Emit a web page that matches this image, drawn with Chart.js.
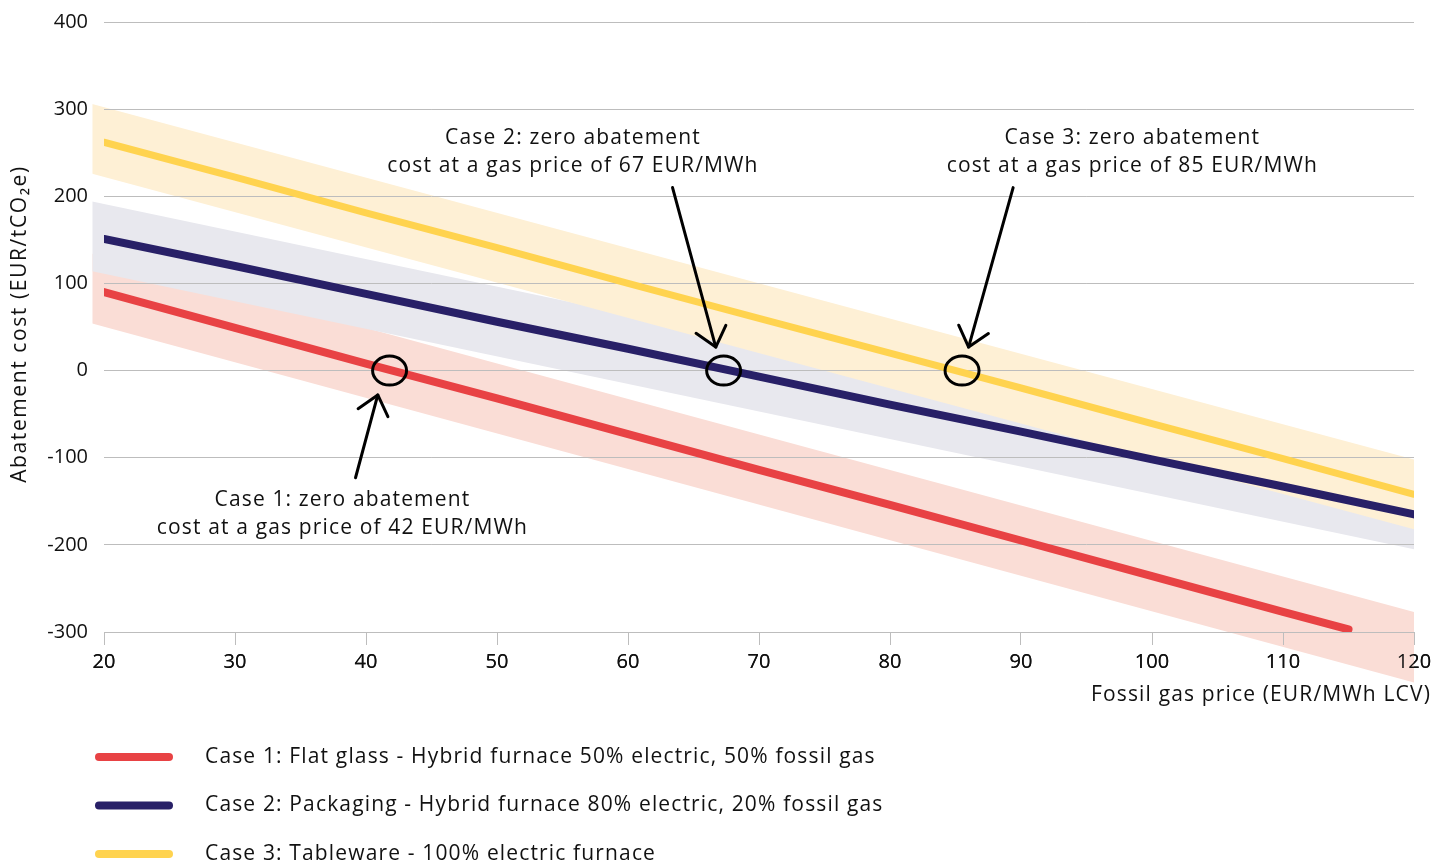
<!DOCTYPE html>
<html><head><meta charset="utf-8">
<script src="https://cdn.jsdelivr.net/npm/chart.js@4.4.1/dist/chart.umd.min.js"></script>
<style>html,body{margin:0;padding:0;background:#fff;}canvas{display:block}</style>
</head><body>
<canvas id="c" width="1433" height="861"></canvas>
<script>
// ---- data ----
const xTicks = [20,30,40,50,60,70,80,90,100,110,120];
const yTicks = [-300,-200,-100,0,100,200,300,400];

const case1X = [20,30,40,50,60,70,80,90,100,110,115];
const case1Y = [90,49,8,-32,-73,-114,-154,-195,-236,-277,-297];
const case2X = [20,30,40,50,60,70,80,90,100,110,120];
const case2Y = [151,120,88,56,25,-7,-39,-70,-102,-133,-165];
const case3X = [20,30,40,50,60,70,80,90,100,110,120];
const case3Y = [262,222,181,141,100,60,20,-20,-61,-101,-142];

const bandX = [19.1,120];
const case1Upper = [134,-277];
const case1Lower = [54,-358];
const case2Upper = [194,-125];
const case2Lower = [114,-205];
const case3Upper = [306,-102];
const case3Lower = [226,-182];

const seriesNames = [
  'Case 1: Flat glass - Hybrid furnace 50% electric, 50% fossil gas',
  'Case 2: Packaging - Hybrid furnace 80% electric, 20% fossil gas',
  'Case 3: Tableware - 100% electric furnace'
];
const lineColors = ['#E84244','#282067','#FFD34F'];
const bandColors = ['#FADDD6','#E8E8EE','#FEF0D5'];

const yTitle = 'Abatement cost (EUR/tCO₂e)';
const xTitle = 'Fossil gas price (EUR/MWh LCV)';

const notes = [
  {circle:[41.8,0], tail:[39.2,-123], tip:[40.9,-28], at:[38.2,-148],
   lines:['Case 1: zero abatement','cost at a gas price of 42 EUR/MWh']},
  {circle:[67.3,0], tail:[63.4,210], tip:[66.7,27], at:[55.8,267],
   lines:['Case 2: zero abatement','cost at a gas price of 67 EUR/MWh']},
  {circle:[85.5,0], tail:[89.4,210], tip:[86.0,27], at:[98.5,267],
   lines:['Case 3: zero abatement','cost at a gas price of 85 EUR/MWh']}
];

// ---- build ----
const pts = (xs, ys) => xs.map((x,i)=>({x, y: ys[i]}));
const FONT = '"Open Sans", "Noto Sans", sans-serif';
const SPACING = '1.15px';

function band(up, low, color, order){
  return [
    {label:'_u', data: pts(bandX, up), borderWidth:0, pointRadius:0, backgroundColor: color, fill:'+1', order, clip:false},
    {label:'_l', data: pts(bandX, low), borderWidth:0, pointRadius:0, backgroundColor: color, fill:false, order, clip:false}
  ];
}
function line(xs, ys, i){
  return {label: seriesNames[i], data: pts(xs, ys), borderColor: lineColors[i], backgroundColor: lineColors[i],
    borderWidth: i===2 ? 7 : 8, borderCapStyle:'round', pointRadius:0, fill:false, tension:0, order: 3-i};
}

const datasets = [
  ...band(case1Upper, case1Lower, bandColors[0], 10),
  ...band(case2Upper, case2Lower, bandColors[1], 9),
  ...band(case3Upper, case3Lower, bandColors[2], 8),
  line(case1X, case1Y, 0),
  line(case2X, case2Y, 1),
  line(case3X, case3Y, 2)
];
const FIRST_LINE = 6;

// let the uncertainty bands spill past the plot frame, as in the original
const widenArea = {
  id:'widenArea',
  beforeDatasetsDraw(chart){
    const a = chart.chartArea;
    chart._saved = {left:a.left, bottom:a.bottom};
    a.left = chart.scales.x.getPixelForValue(bandX[0]);
    a.bottom = chart.height;
  },
  beforeDatasetDraw(chart, args){
    // grid lines and x axis sit above the bands but below the lines
    if (args.index !== FIRST_LINE) return;
    const area = Object.assign({}, chart.chartArea, chart._saved);
    chart.scales.y.drawGrid(area);
    chart.scales.x.draw(area);
  },
  afterDatasetsDraw(chart){ Object.assign(chart.chartArea, chart._saved); }
};

const overlay = {
  id:'overlay',
  afterDraw(chart){
    const {ctx, scales:{x, y}, chartArea} = chart;
    ctx.save();
    ctx.letterSpacing = SPACING;
    ctx.strokeStyle = '#000'; ctx.lineWidth = 3; ctx.lineCap='round'; ctx.lineJoin='round';
    notes.forEach(n=>{
      ctx.beginPath();
      ctx.ellipse(x.getPixelForValue(n.circle[0]), y.getPixelForValue(n.circle[1]), 17, 14.5, 0, 0, Math.PI*2);
      ctx.stroke();
      const tx = x.getPixelForValue(n.tail[0]), ty = y.getPixelForValue(n.tail[1]);
      const hx = x.getPixelForValue(n.tip[0]), hy = y.getPixelForValue(n.tip[1]);
      ctx.beginPath(); ctx.moveTo(tx,ty); ctx.lineTo(hx,hy); ctx.stroke();
      const a = Math.atan2(ty-hy, tx-hx), L = 24, w = 40*Math.PI/180;
      ctx.beginPath();
      ctx.moveTo(hx + L*Math.cos(a-w), hy + L*Math.sin(a-w));
      ctx.lineTo(hx,hy);
      ctx.lineTo(hx + L*Math.cos(a+w), hy + L*Math.sin(a+w));
      ctx.stroke();
      ctx.fillStyle = '#111'; ctx.font = '21px ' + FONT; ctx.textAlign='center'; ctx.textBaseline='middle';
      const cx = x.getPixelForValue(n.at[0]), cy = y.getPixelForValue(n.at[1]);
      n.lines.forEach((t,k)=> ctx.fillText(t, cx, cy + k*28));
    });
    // axis titles
    ctx.fillStyle = '#111'; ctx.font = '21px ' + FONT; ctx.textBaseline='middle';
    ctx.textAlign='right';
    ctx.fillText(xTitle, chartArea.right + 17, chartArea.bottom + 63);
    ctx.save();
    ctx.letterSpacing = '1.6px';
    ctx.translate(20, (chartArea.top + chartArea.bottom)/2 - 3);
    ctx.rotate(-Math.PI/2);
    ctx.textAlign='center';
    ctx.fillText(yTitle, 0, 0);
    ctx.restore();
    // legend
    ctx.textAlign='left';
    seriesNames.forEach((name,i)=>{
      const yy = chartArea.bottom + 125 + i*48.5;
      ctx.strokeStyle = lineColors[i]; ctx.lineWidth = 8; ctx.lineCap='round';
      ctx.beginPath(); ctx.moveTo(99, yy); ctx.lineTo(169, yy); ctx.stroke();
      ctx.fillStyle = '#111';
      ctx.fillText(name, 205, yy);
    });
    ctx.restore();
  }
};

new Chart(document.getElementById('c'), {
  type:'line',
  data:{datasets},
  options:{
    responsive:false, animation:false, devicePixelRatio:1,
    layout:{padding:{left:0,right:19,top:22,bottom:0}},
    plugins:{legend:{display:false}, tooltip:{enabled:false}},
    scales:{
      x:{type:'linear', min:20, max:120,
        afterBuildTicks(s){ s.ticks = xTicks.map(v=>({value:v})); },
        afterFit(s){ s.height = 229; s.paddingLeft = 0; s.paddingRight = 0; },
        grid:{drawOnChartArea:false, drawTicks:true, tickLength:13, color:'#bdbdbd'},
        border:{display:true, color:'#bdbdbd'},
        ticks:{font:{size:20, family:FONT}, color:'#111', padding:5, maxRotation:0}
      },
      y:{type:'linear', min:-300, max:400,
        afterBuildTicks(s){ s.ticks = yTicks.map(v=>({value:v})); },
        afterFit(s){ s.width = 104; s.paddingTop = 0; s.paddingBottom = 0; },
        grid:{color:'#bdbdbd', drawTicks:false},
        border:{display:false},
        ticks:{font:{size:20, family:FONT}, color:'#111', padding:16}
      }
    }
  },
  plugins:[widenArea, overlay]
});
</script>
</body></html>
